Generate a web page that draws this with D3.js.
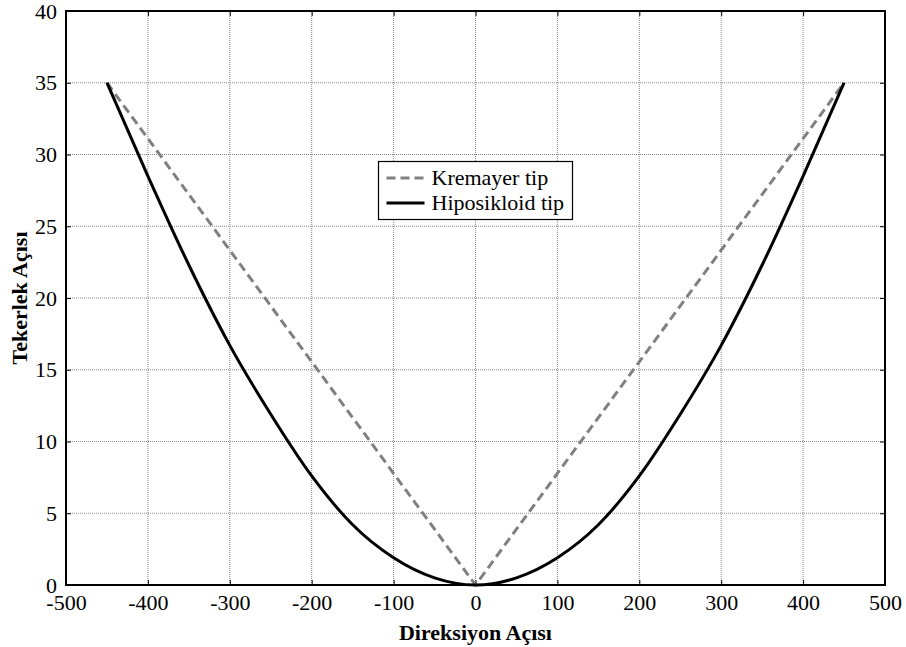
<!DOCTYPE html>
<html>
<head>
<meta charset="utf-8">
<script src="https://cdn.jsdelivr.net/npm/d3@7"></script>
<style>
  body { margin: 0; background: #fff; }
  text { font-family: "Liberation Serif", "Times New Roman", serif; }
</style>
</head>
<body>
<div id="vis"></div>
<script>
var width = 906,
    height = 647;

// data
var xTicks = [-500, -400, -300, -200, -100, 0, 100, 200, 300, 400, 500];
var yTicks = [0, 5, 10, 15, 20, 25, 30, 35, 40];

var kremayerX = [-450, 0, 450];
var kremayerY = [35, 0, 35];

var hipoX = [-450, -400, -350, -300, -250, -200, -150, -100, -50, 0, 50, 100, 150, 200, 250, 300, 350, 400, 450];
var hipoY = [35, 28.5, 22.3, 16.7, 11.9, 7.6, 4.2, 1.9, 0.5, 0, 0.5, 1.9, 4.2, 7.6, 11.9, 16.7, 22.3, 28.5, 35];

var seriesNames = ["Kremayer tip", "Hiposikloid tip"];

var margin = {left: 66, top: 11, right: 21, bottom: 62};
var fontSize = "22px";

var svg = d3.select("#vis").append("svg")
    .attr("width", width)
    .attr("height", height);

var x = d3.scaleLinear().domain([-500, 500]).range([margin.left, width - margin.right]);
var y = d3.scaleLinear().domain([0, 40]).range([height - margin.bottom, margin.top]);

//--------GRID--------//
var grid = svg.append("g").attr("class", "grid");
grid.selectAll(".vx")
    .data(xTicks.slice(1, -1))
    .enter().append("line")
    .attr("x1", d => x(d)).attr("x2", d => x(d))
    .attr("y1", y(0)).attr("y2", y(40))
    .attr("stroke", "#888").attr("stroke-width", 1)
    .attr("stroke-dasharray", "1,1");
grid.selectAll(".hy")
    .data(yTicks.slice(1, -1))
    .enter().append("line")
    .attr("x1", x(-500)).attr("x2", x(500))
    .attr("y1", d => y(d)).attr("y2", d => y(d))
    .attr("stroke", "#888").attr("stroke-width", 1)
    .attr("stroke-dasharray", "1,1");

//--------AXES--------//
var plain = function(d) { return String(d); }; // hyphen minus like the original
var xAxisB = d3.axisBottom(x).tickValues(xTicks).tickSizeInner(-5).tickSizeOuter(0).tickPadding(9).tickFormat(plain);
var xAxisT = d3.axisTop(x).tickValues(xTicks).tickSizeInner(-5).tickSizeOuter(0).tickFormat("");
var yAxisL = d3.axisLeft(y).tickValues(yTicks).tickSizeInner(-5).tickSizeOuter(0).tickPadding(9).tickFormat(plain);
var yAxisR = d3.axisRight(y).tickValues(yTicks).tickSizeInner(-5).tickSizeOuter(0).tickFormat("");

function styleAxis(g) {
  g.select(".domain").remove();
  g.selectAll(".tick line").attr("stroke", "#000").attr("stroke-width", 1);
  g.selectAll("text")
    .attr("fill", "#000")
    .style("font-size", fontSize)
    .style("font-family", "'Liberation Serif', serif");
}

svg.append("g").attr("transform", "translate(0," + y(0) + ")").call(xAxisB).call(styleAxis);
svg.append("g").attr("transform", "translate(0," + y(40) + ")").call(xAxisT).call(styleAxis);
svg.append("g").attr("transform", "translate(" + x(-500) + ",0)").call(yAxisL).call(styleAxis);
svg.append("g").attr("transform", "translate(" + x(500) + ",0)").call(yAxisR).call(styleAxis);

// frame
svg.append("rect")
    .attr("x", x(-500)).attr("y", y(40))
    .attr("width", x(500) - x(-500)).attr("height", y(0) - y(40))
    .attr("fill", "none").attr("stroke", "#000").attr("stroke-width", 2);

//--------LINES--------//
var line = d3.line().x(d => x(d[0])).y(d => y(d[1]));

svg.append("path")
    .datum(kremayerX.map((v, i) => [v, kremayerY[i]]))
    .attr("d", line)
    .attr("fill", "none")
    .attr("stroke", "#808080").attr("stroke-width", 3)
    .attr("stroke-dasharray", "9,5");

svg.append("path")
    .datum(hipoX.map((v, i) => [v, hipoY[i]]))
    .attr("d", line.curve(d3.curveMonotoneX))
    .attr("fill", "none")
    .attr("stroke", "#000").attr("stroke-width", 3);

//--------LEGEND--------//
var legend = svg.append("g").attr("transform", "translate(378.5,161.5)");
legend.append("rect")
    .attr("width", 194).attr("height", 58)
    .attr("fill", "#fff").attr("stroke", "#000").attr("stroke-width", 1.2);

var styles = [{c: "#808080", dash: "9,5"}, {c: "#000", dash: null}];
seriesNames.forEach(function(name, i) {
  var yy = 16.5 + i * 25;
  legend.append("line")
      .attr("x1", 8).attr("x2", 46)
      .attr("y1", yy).attr("y2", yy)
      .attr("stroke", styles[i].c).attr("stroke-width", 3)
      .attr("stroke-dasharray", styles[i].dash);
  legend.append("text")
      .attr("x", 53).attr("y", yy + 7)
      .style("font-size", fontSize)
      .text(name);
});

//--------TITLES--------//
svg.append("text")
    .attr("x", x(0)).attr("y", 640)
    .attr("text-anchor", "middle")
    .style("font-size", fontSize).style("font-weight", "bold")
    .text("Direksiyon Açısı");

svg.append("text")
    .attr("transform", "translate(27," + y(20) + ") rotate(-90)")
    .attr("text-anchor", "middle")
    .style("font-size", fontSize).style("font-weight", "bold")
    .text("Tekerlek Açısı");
</script>
</body>
</html>
